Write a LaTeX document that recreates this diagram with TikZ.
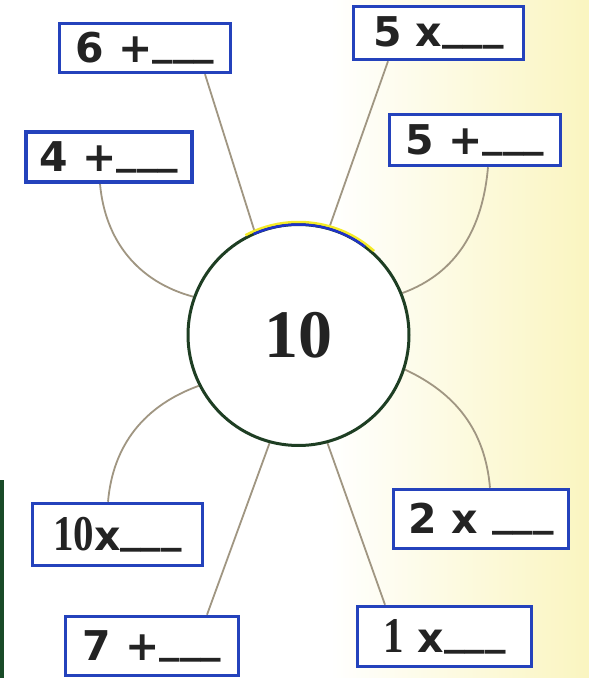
\documentclass[tikz,border=0pt]{standalone}
\usepackage{fontspec}
\usepackage{graphicx}
\newfontfamily\sansfnt{DejaVu Sans}
\newfontfamily\seriffnt{Liberation Serif}
\usetikzlibrary{calc}
\definecolor{boxblue}{RGB}{36,66,188}
\definecolor{inkgrey}{RGB}{35,35,35}
\definecolor{wirecol}{RGB}{160,150,130}
\definecolor{ringgreen}{RGB}{30,62,35}
\definecolor{paperyellow}{RGB}{250,245,192}
\definecolor{edgegreen}{RGB}{25,75,40}
\definecolor{arcblue}{RGB}{30,50,200}
\definecolor{arcyellow}{RGB}{245,235,40}
\newcommand\answerline{\raisebox{0.19em}{\_\_\_}}
\newcommand\serifdigits[1]{{\seriffnt\bfseries\fontsize{50}{50}\selectfont\scalebox{0.82}[1]{#1}}}
\pgfdeclarelayer{paper}
\pgfdeclarelayer{wires}
\pgfsetlayers{paper,wires,main}
\begin{document}
\begin{tikzpicture}[x=1pt,y=1pt,
  answerbox/.style={draw=boxblue, line width=3.5pt, fill=white, inner sep=0pt,
    text=inkgrey, font=\sansfnt\bfseries\fontsize{41}{41}\selectfont},
  wireline/.style={draw=wirecol, line width=1.8pt},
]
\useasboundingbox (0,0) rectangle (589,678);
\begin{pgfonlayer}{paper}
\fill[white] (0,0) rectangle (589,678);
\shade[left color=white, right color=paperyellow] (330,0) rectangle (589,678);
\fill[edgegreen] (0,0) rectangle (4,198);
\end{pgfonlayer}

% centre circle
\node[circle, draw=ringgreen, line width=3pt, fill=white, minimum size=221pt, inner sep=0pt,
      text=inkgrey, font=\seriffnt\bfseries\fontsize{68}{68}\selectfont] (c) at (298.5,343) {10};
\draw[arcyellow, line width=2.5pt] ([shift={(118:113)}]c.center) arc[start angle=118, end angle=48, radius=113];
\draw[arcblue, line width=2.5pt] ([shift={(114:110.5)}]c.center) arc[start angle=114, end angle=53, radius=110.5];

% answer boxes
\node[answerbox, minimum width=171pt, minimum height=49pt] (b6)  at (145,630)   {6 +\answerline};
\node[answerbox, minimum width=170pt, minimum height=53pt] (b5x) at (438.5,645) {5 x\answerline};
\node[answerbox, minimum width=166pt, minimum height=50pt] (b4)  at (109,521)   {4 +\answerline};
\node[answerbox, minimum width=171pt, minimum height=51pt] (b5p) at (475,538)   {5 +\answerline};
\node[answerbox, minimum width=170pt, minimum height=62pt] (b10) at (117.5,143.5) {\serifdigits{10}x\answerline};
\node[answerbox, minimum width=173pt, minimum height=59pt] (b7)  at (152,32)    {7 +\answerline};
\node[answerbox, minimum width=175pt, minimum height=59pt] (b2)  at (481,159)   {2 x \answerline};
\node[answerbox, minimum width=174pt, minimum height=60pt] (b1)  at (444.5,41.5) {\serifdigits{1} x\answerline};

% connectors
\begin{pgfonlayer}{wires}
\draw[wireline] ([xshift=60pt]b6.south) -- (c.113);
\draw[wireline] ([xshift=-50.5pt]b5x.south) -- (c.74);
\draw[wireline] ([xshift=-9pt]b4.south) to[out=-85, in=165] (c.160);
\draw[wireline] ([xshift=13pt]b5p.south) to[out=-95, in=20] (c.22);
\draw[wireline] ([xshift=-9.5pt]b10.north) to[out=85, in=200] (c.207);
\draw[wireline] ([xshift=9pt]b2.north) to[out=95, in=-25] (c.-18);
\draw[wireline] ([xshift=55pt]b7.north) -- (c.255);
\draw[wireline] ([xshift=-59.5pt]b1.north) -- (c.285);
\end{pgfonlayer}
\end{tikzpicture}
\end{document}
